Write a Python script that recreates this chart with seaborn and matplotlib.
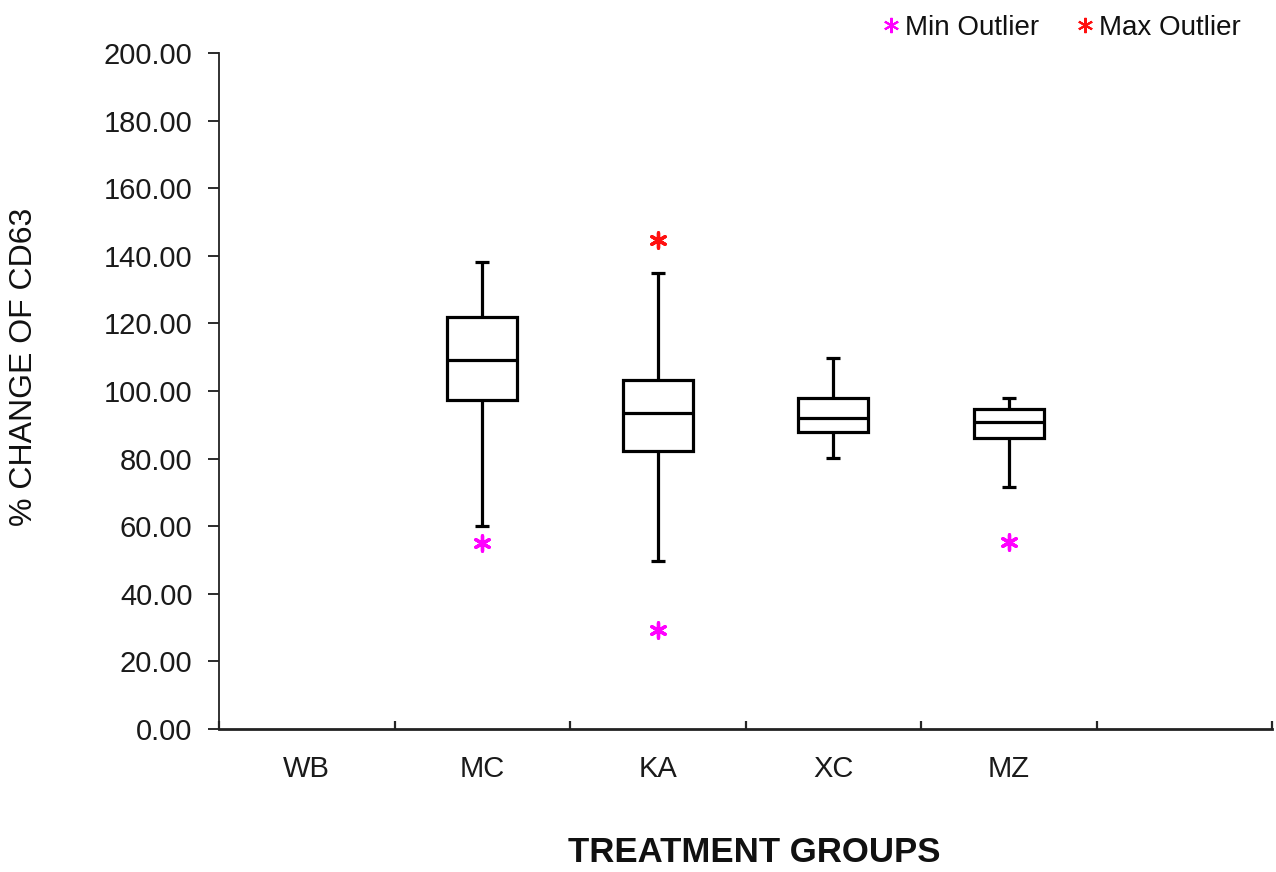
import numpy as np
import pandas as pd
import seaborn as sns
import matplotlib.pyplot as plt
from matplotlib.lines import Line2D

sns.set_theme(style="ticks")
plt.rcParams['font.family'] = ['Liberation Sans', 'DejaVu Sans']

# values
order = ["WB", "MC", "KA", "XC", "MZ"]
groups = ["MC", "KA", "XC", "MZ"]
whisker_low = [60.1, 49.8, 80.3, 71.7]
q1 = [97.3, 82.3, 88.0, 86.0]
median = [109.2, 93.6, 91.9, 90.9]
q3 = [121.8, 103.3, 98.0, 94.7]
whisker_high = [138.3, 135.0, 109.9, 97.8]

min_outlier_groups = ["MC", "KA", "MZ"]
min_outlier_values = [54.9, 29.3, 55.4]
max_outlier_groups = ["KA"]
max_outlier_values = [144.7]

y_ticks = np.arange(0, 201, 20)

MIN_COLOR = "#FF00FF"
MAX_COLOR = "#FF1010"
STAR = (6, 2, 0)

# five-number summary per group -> whis=(0, 100) gives whiskers at min / max
rows = []
for g, a, b, c, d, e in zip(groups, whisker_low, q1, median, q3, whisker_high):
    for v in (a, b, c, d, e):
        rows.append({"group": g, "value": v})
df = pd.DataFrame(rows)
df_min = pd.DataFrame({"group": min_outlier_groups, "value": min_outlier_values})
df_max = pd.DataFrame({"group": max_outlier_groups, "value": max_outlier_values})

fig = plt.figure(figsize=(12.76, 8.72), dpi=100)
ax = fig.add_axes([219 / 1276, 1 - 729 / 872, (1272 - 219) / 1276, (729 - 53) / 872])

sns.boxplot(data=df, x="group", y="value", order=order, whis=(0, 100),
            width=0.4, color="white", linecolor="black", linewidth=2.3,
            showfliers=False, ax=ax)

# shorter whisker caps like the original
for cont in ax.containers:
    caps = getattr(cont, "caps", [])
    for cap in caps:
        xs = np.asarray(cap.get_xdata(), dtype=float)
        mid = xs.mean()
        cap.set_xdata([mid - 0.04, mid + 0.04])
        cap.set_solid_capstyle("butt")

sns.stripplot(data=df_min, x="group", y="value", order=order, jitter=False,
              marker=STAR, size=11, linewidth=2.4, color=MIN_COLOR,
              edgecolor=MIN_COLOR, ax=ax, zorder=5)
sns.stripplot(data=df_max, x="group", y="value", order=order, jitter=False,
              marker=STAR, size=11, linewidth=2.4, color=MAX_COLOR,
              edgecolor=MAX_COLOR, ax=ax, zorder=5)

n = len(order) + 1
ax.set_xlim(-0.5, n - 0.5)
ax.set_ylim(0, 200)
ax.set_yticks(y_ticks)
ax.set_yticklabels([f"{t:.2f}" for t in y_ticks])
ax.set_xticks(np.arange(-0.5, n, 1))
ax.set_xticklabels([])
ax.set_xticks(range(len(order)), minor=True)
ax.set_xticklabels(order, minor=True)

ax.tick_params(axis="y", direction="out", length=8, width=1.3, pad=11,
               labelsize=21, colors="#1a1a1a")
ax.tick_params(axis="x", which="major", direction="in", length=6, width=1.6)
ax.tick_params(axis="x", which="minor", length=0, pad=19, labelsize=21,
               labelcolor="#1a1a1a")
for side in ("top", "right"):
    ax.spines[side].set_visible(False)
ax.spines["left"].set_linewidth(1.3)
ax.spines["bottom"].set_linewidth(2.0)
ax.spines["left"].set_color("#222222")
ax.spines["bottom"].set_color("#222222")

ax.set_xlabel("TREATMENT GROUPS", fontsize=25, fontweight="bold", color="#111111")
ax.xaxis.set_label_coords(0.508, -0.183)
ax.xaxis.label.set_va("center")
ax.set_ylabel("% CHANGE OF CD63", fontsize=23, color="#111111")
ax.yaxis.set_label_coords(-0.185, 0.535)
ax.yaxis.label.set_va("center")

handles = [
    Line2D([], [], linestyle="none", marker=STAR, markersize=11,
           markeredgewidth=1.5, color=MIN_COLOR, label="Min Outlier"),
    Line2D([], [], linestyle="none", marker=STAR, markersize=11,
           markeredgewidth=1.5, color=MAX_COLOR, label="Max Outlier"),
]
fig.legend(handles=handles, loc="upper right", bbox_to_anchor=(1252 / 1276, 1 - 4 / 872),
           ncol=2, frameon=False, fontsize=20, handlelength=0.7,
           handletextpad=0.15, columnspacing=1.3, borderaxespad=0,
           labelcolor="#111111")

fig.savefig("out.png", dpi=100, facecolor="white")
